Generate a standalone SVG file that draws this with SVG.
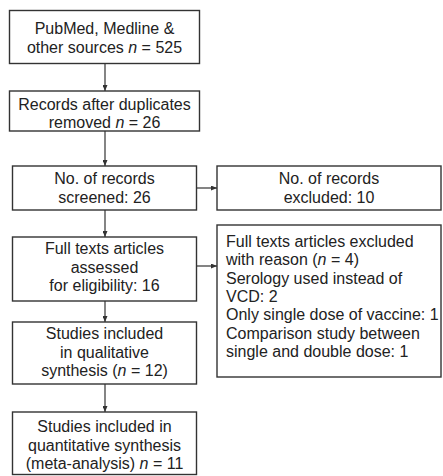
<svg xmlns="http://www.w3.org/2000/svg" width="443" height="476" viewBox="0 0 443 476">
<defs>
<marker id="ah" viewBox="0 0 10 8" refX="10" refY="4" markerWidth="6" markerHeight="5" markerUnits="userSpaceOnUse" orient="auto" preserveAspectRatio="none">
<path d="M0,0 L10,4 L0,8 z" fill="#333"/>
</marker>
<style>
.box{fill:#fff;stroke:#333;stroke-width:1.4}
.t{font-family:"Liberation Sans",Arial,sans-serif;font-size:16px;fill:#222}
.c{text-anchor:middle}
.con{stroke:#333;stroke-width:1.2;fill:none;marker-end:url(#ah)}
</style>
</defs>
<rect width="443" height="476" fill="#fff"/>
<g id="connectors">
<line class="con" x1="105" y1="63" x2="105" y2="91"/>
<line class="con" x1="105" y1="131" x2="105" y2="166"/>
<line class="con" x1="105" y1="210" x2="105" y2="237"/>
<line class="con" x1="105" y1="301" x2="105" y2="322"/>
<line class="con" x1="105" y1="384" x2="105" y2="412"/>
<line class="con" x1="196" y1="188" x2="217" y2="188"/>
<line class="con" x1="196" y1="266" x2="217" y2="266"/>
</g>
<g id="n1">
<rect class="box" x="9.5" y="10.5" width="190" height="53"/>
<text class="t c" x="104.5" y="33.5">PubMed, Medline &amp;</text>
<text class="t c" x="104.5" y="52.5">other sources <tspan font-style="italic">n</tspan> = 525</text>
</g>
<g id="n2">
<rect class="box" x="9.5" y="91" width="190" height="40"/>
<text class="t c" x="104.5" y="110">Records after duplicates</text>
<text class="t c" x="104.5" y="127.5">removed <tspan font-style="italic">n</tspan> = 26</text>
</g>
<g id="n3">
<rect class="box" x="12.5" y="166" width="184" height="44"/>
<text class="t c" x="104.5" y="184">No. of records</text>
<text class="t c" x="104.5" y="202.5">screened: 26</text>
</g>
<g id="n4">
<rect class="box" x="217" y="166" width="224" height="44"/>
<text class="t c" x="329" y="184">No. of records</text>
<text class="t c" x="329" y="202.5">excluded: 10</text>
</g>
<g id="n5">
<rect class="box" x="12.5" y="237" width="184" height="64"/>
<text class="t c" x="104.5" y="254">Full texts articles</text>
<text class="t c" x="104.5" y="272.5">assessed</text>
<text class="t c" x="104.5" y="291">for eligibility: 16</text>
</g>
<g id="n6">
<rect class="box" x="217" y="225" width="224" height="152"/>
<text class="t" x="226" y="247">Full texts articles excluded</text>
<text class="t" x="226" y="265.3">with reason (<tspan font-style="italic">n</tspan> = 4)</text>
<text class="t" x="226" y="283.6">Serology used instead of</text>
<text class="t" x="226" y="301.9">VCD: 2</text>
<text class="t" x="226" y="320.2">Only single dose of vaccine: 1</text>
<text class="t" x="226" y="338.5">Comparison study between</text>
<text class="t" x="226" y="356.8">single and double dose: 1</text>
</g>
<g id="n7">
<rect class="box" x="12.5" y="322" width="184" height="62"/>
<text class="t c" x="104.5" y="339">Studies included</text>
<text class="t c" x="104.5" y="357.5">in qualitative</text>
<text class="t c" x="104.5" y="376">synthesis (<tspan font-style="italic">n</tspan> = 12)</text>
</g>
<g id="n8">
<rect class="box" x="12.5" y="412" width="184" height="62.5"/>
<text class="t c" x="104.5" y="432">Studies included in</text>
<text class="t c" x="104.5" y="450.5">quantitative synthesis</text>
<text class="t c" x="104.5" y="469">(meta-analysis) <tspan font-style="italic">n</tspan> = 11</text>
</g>
</svg>
